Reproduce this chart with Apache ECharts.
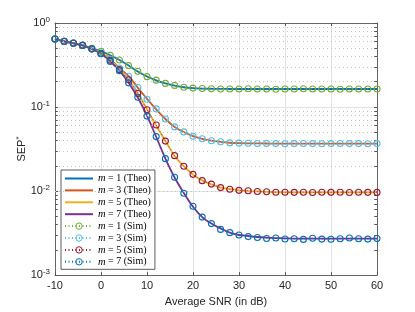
<!DOCTYPE html>
<html>
<head>
<meta charset="utf-8">
<script src="https://cdn.jsdelivr.net/npm/echarts@6/dist/echarts.min.js"></script>
<style>html,body{margin:0;padding:0;background:#fff}#c{width:415px;height:312px}</style>
</head>
<body>
<div id="c"></div>
<script>
const snr = [-10,-8,-6,-4,-2,0,2,4,6,8,10,12,14,16,18,20,22,24,26,28,30,32,34,36,38,40,42,44,46,48,50,52,54,56,58,60];
const theoM1 = [0.643,0.605,0.577,0.546,0.500,0.460,0.413,0.362,0.312,0.265,0.231,0.208,0.191,0.180,0.172,0.168,0.166,0.165,0.1645,0.164,0.164,0.164,0.164,0.164,0.164,0.164,0.164,0.164,0.164,0.164,0.164,0.164,0.164,0.164,0.164,0.164];
const theoM3 = [0.643,0.605,0.576,0.543,0.495,0.440,0.370,0.290,0.233,0.170,0.125,0.094,0.072,0.058,0.0504,0.0450,0.0418,0.0398,0.0385,0.0376,0.0372,0.0370,0.0369,0.0368,0.0367,0.0367,0.0367,0.0367,0.0367,0.0367,0.0367,0.0367,0.0367,0.0367,0.0367,0.0367];
const theoM5 = [0.643,0.605,0.575,0.542,0.492,0.435,0.360,0.280,0.210,0.146,0.094,0.060,0.0395,0.0262,0.0198,0.0157,0.0134,0.0120,0.0110,0.0106,0.0102,0.0100,0.0099,0.0098,0.0097,0.00966,0.00966,0.00966,0.00966,0.00966,0.00966,0.00966,0.00966,0.00966,0.00966,0.00966];
const theoM7 = [0.643,0.605,0.574,0.540,0.490,0.430,0.350,0.270,0.195,0.130,0.079,0.044,0.0244,0.0145,0.0095,0.0065,0.0049,0.0041,0.0036,0.0032,0.0030,0.00292,0.00284,0.00279,0.00276,0.00274,0.00272,0.00272,0.00272,0.00272,0.00272,0.00272,0.00272,0.00272,0.00272,0.00272];
const simM1 = [0.645,0.603,0.578,0.547,0.499,0.461,0.412,0.363,0.311,0.266,0.230,0.209,0.191,0.181,0.172,0.168,0.166,0.165,0.164,0.164,0.164,0.165,0.164,0.164,0.163,0.164,0.164,0.165,0.164,0.164,0.164,0.163,0.164,0.164,0.164,0.164];
const simM3 = [0.642,0.606,0.575,0.544,0.494,0.441,0.371,0.291,0.232,0.171,0.124,0.095,0.072,0.058,0.0506,0.0448,0.0420,0.0397,0.0386,0.0375,0.0372,0.0371,0.0368,0.0369,0.0367,0.0366,0.0367,0.0368,0.0367,0.0366,0.0367,0.0368,0.0367,0.0367,0.0366,0.0367];
const simM5 = [0.644,0.604,0.576,0.541,0.493,0.434,0.361,0.279,0.211,0.145,0.093,0.061,0.0393,0.0264,0.0197,0.0158,0.0133,0.0121,0.0110,0.0105,0.0102,0.0101,0.0099,0.0098,0.0097,0.0097,0.00965,0.0097,0.00962,0.00968,0.00965,0.0097,0.00963,0.00967,0.00966,0.00964];
const simM7 = [0.643,0.606,0.573,0.541,0.489,0.431,0.349,0.271,0.194,0.131,0.078,0.0445,0.0243,0.0146,0.0094,0.0066,0.0049,0.0041,0.0035,0.0032,0.0030,0.00287,0.00280,0.00273,0.00276,0.00269,0.00271,0.00266,0.00275,0.00268,0.00267,0.00271,0.00276,0.00271,0.00268,0.00273];
const xTicks = [-10,0,10,20,30,40,50,60];
const yTicks = [0.001,0.01,0.1,1];

const theoNames = ['m = 1 (Theo)','m = 3 (Theo)','m = 5 (Theo)','m = 7 (Theo)'];
const simNames = ['m = 1 (Sim)','m = 3 (Sim)','m = 5 (Sim)','m = 7 (Sim)'];
const theoColors = ['#0072BD','#D95319','#EDB120','#7E2F8E'];
const simColors = ['#77AC30','#4DBEEE','#A2142F','#0072BD'];
const theoData = [theoM1,theoM3,theoM5,theoM7];
const simData = [simM1,simM3,simM5,simM7];

const pairs = arr => snr.map((x,i)=>[x,arr[i]]);

const minorVals = [];
for (let e = -3; e < 0; e++) for (let j = 2; j <= 9; j++) minorVals.push(+(j*Math.pow(10,e)).toPrecision(3));

const series = [];
series.push({
  type:'line', data:[], silent:true, z:1,
  markLine:{
    silent:true, symbol:['none','none'], animation:false,
    label:{show:false},
    lineStyle:{color:'#c4c4c4', width:1, type:[1,3]},
    data: minorVals.map(v=>({yAxis:v}))
  }
});
series.push({
  type:'line', data:[], silent:true, z:3,
  markLine:{
    silent:true, symbol:['none','none'], animation:false,
    label:{show:false},
    lineStyle:{color:'#555', width:1, type:'solid'},
    data: minorVals.flatMap(v=>[
      [{coord:[-10,v]},{coord:[-9.4,v]}],
      [{coord:[59.4,v]},{coord:[60,v]}]
    ])
  }
});
theoData.forEach((d,i)=>{
  series.push({
    name:theoNames[i], type:'line', data:pairs(d), smooth:0.35,
    symbol:'none', showSymbol:false, z:4,
    lineStyle:{color:theoColors[i], width:1.8},
    itemStyle:{color:theoColors[i]}
  });
});
simData.forEach((d,i)=>{
  series.push({
    name:simNames[i], type:'line', data:pairs(d),
    symbol:'circle', symbolSize:6, showSymbol:true, z:5,
    lineStyle:{color:simColors[i], width:0.8, type:[1,2.5]},
    itemStyle:{color:'rgba(255,255,255,0)', borderColor:simColors[i], borderWidth:1.1}
  });
});

const lineIcon = 'path://M0,0 L28,0 L28,2 L0,2 Z';

const chart = echarts.init(document.getElementById('c'), null, {renderer:'canvas'});
chart.setOption({
  animation:false,
  backgroundColor:'#fff',
  grid:{left:55, right:38, top:23, bottom:34},
  legend:{
    orient:'vertical', left:61, top:170,
    data:[...theoNames.map((n,i)=>({name:n, icon:lineIcon, itemStyle:{color:theoColors[i]}})),
          ...simNames.map((n,i)=>({name:n, itemStyle:{color:'rgba(255,255,255,0)', borderColor:simColors[i], borderWidth:1}}))],
    backgroundColor:'#fff', borderColor:'#333', borderWidth:0.8,
    padding:[3,4,2,3], itemGap:0.9, itemWidth:28, itemHeight:8, itemTextGap:4,
    symbolKeepAspect:true,
    formatter: n => '{i|m} ' + n.slice(2),
    textStyle:{fontFamily:'Liberation Serif', fontSize:10, lineHeight:10, color:'#000',
      rich:{i:{fontFamily:'Liberation Serif', fontStyle:'italic', fontSize:10.5, color:'#000'}}}
  },
  xAxis:[{
    type:'value', min:-10, max:60, interval:10,
    name:'Average SNR (in dB)', nameLocation:'middle', nameGap:17,
    nameTextStyle:{fontFamily:'Liberation Sans', fontSize:11, color:'#262626'},
    axisLine:{show:true, onZero:false, lineStyle:{color:'#666', width:1}},
    axisTick:{show:true, inside:true, length:3, lineStyle:{color:'#555'}},
    axisLabel:{fontFamily:'Liberation Sans', fontSize:11, color:'#262626', margin:5,
      formatter: v => xTicks.includes(v) ? String(v) : ''},
    splitLine:{show:true, lineStyle:{color:'#e3e3e3', width:1}}
  },{
    type:'value', min:-10, max:60, interval:10, position:'top',
    axisLine:{show:true, onZero:false, lineStyle:{color:'#666', width:1}},
    axisTick:{show:true, inside:true, length:3, lineStyle:{color:'#555'}},
    axisLabel:{show:false}, splitLine:{show:false}
  }],
  yAxis:[{
    type:'log', logBase:10, min:0.001, max:1,
    name:'{a|SEP}{b|*}', nameLocation:'middle', nameGap:26, nameRotate:90, nameMoveOverlap:false,
    nameTextStyle:{fontFamily:'Liberation Sans', fontSize:11, color:'#262626',
      rich:{a:{fontFamily:'Liberation Sans', fontSize:11, color:'#262626'},
            b:{fontFamily:'Liberation Sans', fontSize:8, color:'#262626', verticalAlign:'top', padding:[0,0,6,0]}}},
    axisLine:{show:true, onZero:false, lineStyle:{color:'#666', width:1}},
    axisTick:{show:true, inside:true, length:3, lineStyle:{color:'#555'}},
    axisLabel:{fontFamily:'Liberation Sans', fontSize:11, color:'#262626', margin:5,
      formatter: v => { const e = Math.round(Math.log10(v)); return yTicks.some(t=>Math.abs(t-v)<1e-9) ? '10{s|' + e + '}' : ''; },
      rich:{s:{fontSize:8, verticalAlign:'top', padding:[0,0,7,0], fontFamily:'Liberation Sans', color:'#262626'}}},
    splitLine:{show:true, lineStyle:{color:'#e3e3e3', width:1}}
  },{
    type:'log', logBase:10, min:0.001, max:1, position:'right',
    axisLine:{show:true, onZero:false, lineStyle:{color:'#666', width:1}},
    axisTick:{show:true, inside:true, length:3, lineStyle:{color:'#555'}},
    axisLabel:{show:false}, splitLine:{show:false}
  }],
  series: series
});
</script>
</body>
</html>
